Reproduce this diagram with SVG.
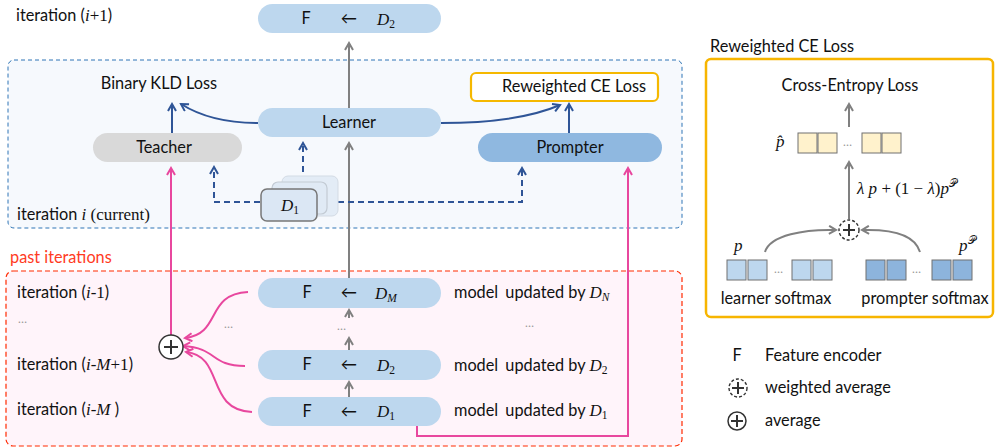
<svg xmlns="http://www.w3.org/2000/svg" width="995" height="448" viewBox="0 0 995 448">
<defs>
<style>
.t{font-family:Lato,"Open Sans","Noto Sans",sans-serif;font-size:16.3px;fill:#111;}
.m{font-family:"Liberation Serif","DejaVu Serif",serif;font-style:italic;font-size:17px;fill:#111;}
.r{font-family:"Liberation Serif","DejaVu Serif",serif;font-style:normal;font-size:17px;fill:#111;}
.sub{font-family:"Liberation Serif","DejaVu Serif",serif;font-style:normal;font-size:11.5px;}
.subi{font-family:"Liberation Serif","DejaVu Serif",serif;font-style:italic;font-size:11.5px;}
.sc{font-family:"DejaVu Sans","DejaVu Serif",serif;font-style:normal;font-size:11px;}
.c{text-anchor:middle;}
.pill{fill:#bdd7ee;}
.blue{fill:none;stroke:#2f5597;stroke-width:2;}
.dash{fill:none;stroke:#2f5597;stroke-width:2;stroke-dasharray:6,4;}
.gray{fill:none;stroke:#808080;stroke-width:2;}
.pink{fill:none;stroke:#e8479e;stroke-width:2;}
.sq{stroke:#707070;stroke-width:1;}
.dots{font-family:Lato,sans-serif;font-size:12px;fill:#999;}
</style>
<marker id="ab" viewBox="0 0 10 10" refX="8" refY="5" markerWidth="5" markerHeight="5" orient="auto"><path d="M1,1 L8,5 L1,9" fill="none" stroke="#2f5597" stroke-width="2"/></marker>
<marker id="ag" viewBox="0 0 10 10" refX="8" refY="5" markerWidth="5" markerHeight="5" orient="auto"><path d="M1,1 L8,5 L1,9" fill="none" stroke="#808080" stroke-width="2"/></marker>
<marker id="ap" viewBox="0 0 10 10" refX="8" refY="5" markerWidth="5" markerHeight="5" orient="auto"><path d="M1,1 L8,5 L1,9" fill="none" stroke="#e8479e" stroke-width="2"/></marker>
</defs>
<rect width="995" height="448" fill="#fff"/>

<!-- containers -->
<g id="current-box">
<rect x="8" y="60" width="674" height="168" rx="6" fill="#f6f9fd" stroke="#2e75b6" stroke-width="1" stroke-dasharray="4,3"/>
</g>
<g id="past-box">
<rect x="6" y="271" width="676" height="175" rx="7" fill="#fff4fa" stroke="#ff2a00" stroke-width="1.2" stroke-dasharray="5,3"/>
<text x="10" y="263" class="t" style="fill:#ff3b1f">past iterations</text>
</g>

<!-- labels left -->
<g id="labels">
<text x="16" y="21" class="t">iteration (<tspan class="m">i</tspan><tspan class="r">+1</tspan>)</text>
<text x="17" y="220" class="t">iteration <tspan class="m">i</tspan> <tspan class="r">(current)</tspan></text>
<text x="17" y="298" class="t">iteration (<tspan class="m">i</tspan><tspan class="r">-1</tspan>)</text>
<text x="18" y="323" class="dots">…</text>
<text x="17" y="370" class="t">iteration (<tspan class="m">i</tspan><tspan class="r">-</tspan><tspan class="m">M</tspan><tspan class="r">+1</tspan>)</text>
<text x="17" y="415" class="t">iteration (<tspan class="m">i</tspan><tspan class="r">-</tspan><tspan class="m">M</tspan> )</text>
<text x="224" y="328" class="dots">…</text>
<text x="337" y="330" class="dots">…</text>
<text x="454" y="298" class="t">model <tspan dx="3">updated by </tspan><tspan class="m">D</tspan><tspan class="subi" dy="3">N</tspan></text>
<text x="525" y="327" class="dots">…</text>
<text x="454" y="371" class="t">model <tspan dx="3">updated by </tspan><tspan class="m">D</tspan><tspan class="sub" dy="3">2</tspan></text>
<text x="454" y="416" class="t">model <tspan dx="3">updated by </tspan><tspan class="m">D</tspan><tspan class="sub" dy="3">1</tspan></text>
</g>

<!-- connectors -->
<g id="connectors">
<line x1="349" y1="108" x2="349" y2="43" class="gray" marker-end="url(#ag)"/>
<line x1="349" y1="278" x2="349" y2="143" class="gray" marker-end="url(#ag)"/>
<line x1="349" y1="318" x2="349" y2="310" class="gray" marker-end="url(#ag)"/>
<line x1="349" y1="350" x2="349" y2="338" class="gray" marker-end="url(#ag)"/>
<line x1="349" y1="397" x2="349" y2="382" class="gray" marker-end="url(#ag)"/>
<line x1="172" y1="133" x2="172" y2="104" class="blue" marker-end="url(#ab)"/>
<path d="M258,123 C225,123 200,116 181,104" class="blue" marker-end="url(#ab)"/>
<path d="M441,123 C490,123 530,118 560,105" class="blue" marker-end="url(#ab)"/>
<line x1="569" y1="133" x2="569" y2="104" class="blue" marker-end="url(#ab)"/>
<path d="M260,202 L214,202 L214,167" class="dash" marker-end="url(#ab)"/>
<line x1="303" y1="172" x2="303" y2="143" class="dash" marker-end="url(#ab)"/>
<path d="M338,202 L522,202 L522,168" class="dash" marker-end="url(#ab)"/>
<line x1="171" y1="335" x2="171" y2="168" class="pink" marker-end="url(#ap)"/>
<path d="M417,426 L417,436 L628,436 L628,168" class="pink" marker-end="url(#ap)"/>
<path d="M248,292 C205,294 222,334 185,338" class="pink" marker-end="url(#ap)"/>
<path d="M245,366 C210,366 218,348 183,346" class="pink" marker-end="url(#ap)"/>
<path d="M252,412 C205,410 225,356 186,352" class="pink" marker-end="url(#ap)"/>
</g>

<!-- nodes -->
<g id="node-top">
<rect x="258" y="4" width="183" height="29" rx="14.5" class="pill"/>
<text x="306" y="24" class="t c">F</text>
<text x="349" y="24" class="t c">←</text>
<text x="377" y="25" class="m">D<tspan class="sub" dy="3">2</tspan></text>
</g>
<g id="node-learner">
<rect x="258" y="108" width="183" height="29" rx="14.5" class="pill"/>
<text x="349" y="128" class="t c">Learner</text>
</g>
<g id="node-teacher">
<rect x="93" y="133" width="149" height="29" rx="14.5" fill="#d9d9d9"/>
<text x="164" y="153" class="t c">Teacher</text>
</g>
<g id="node-prompter">
<rect x="478" y="133" width="184" height="29" rx="14.5" fill="#8fb8e0"/>
<text x="570" y="153" class="t c">Prompter</text>
</g>
<g id="node-kld">
<text x="159" y="89" class="t c">Binary KLD Loss</text>
</g>
<g id="node-rce">
<rect x="471" y="73" width="187" height="28" rx="5" fill="#fff" stroke="#f5b800" stroke-width="2.2"/>
<text x="574" y="92" class="t c">Reweighted CE Loss</text>
</g>
<g id="node-d1stack">
<rect x="282" y="176" width="56" height="40" rx="6" fill="#e3ecf6" stroke="#d3dbe4" stroke-width="1"/>
<rect x="272" y="182" width="55" height="32" rx="6" fill="#e0eaf5" stroke="#c3cbd4" stroke-width="1.2"/>
<rect x="261" y="189" width="56" height="32" rx="6" fill="#dbe7f4" stroke="#777" stroke-width="1.5"/>
<text x="281" y="211" class="m">D<tspan class="sub" dy="3">1</tspan></text>
</g>
<g id="node-past-m">
<rect x="258" y="278" width="183" height="30" rx="15" class="pill"/>
<text x="307" y="298" class="t c">F</text>
<text x="349" y="298" class="t c">←</text>
<text x="375" y="299" class="m">D<tspan class="subi" dy="3">M</tspan></text>
</g>
<g id="node-past-2">
<rect x="258" y="350" width="183" height="30" rx="15" class="pill"/>
<text x="307" y="370" class="t c">F</text>
<text x="349" y="370" class="t c">←</text>
<text x="377" y="371" class="m">D<tspan class="sub" dy="3">2</tspan></text>
</g>
<g id="node-past-1">
<rect x="258" y="397" width="183" height="29" rx="14.5" class="pill"/>
<text x="307" y="417" class="t c">F</text>
<text x="349" y="417" class="t c">←</text>
<text x="377" y="417" class="m">D<tspan class="sub" dy="3">1</tspan></text>
</g>
<g id="node-avg">
<circle cx="171" cy="347" r="12" fill="#fff" stroke="#333" stroke-width="1.5"/>
<path d="M164,347 H178 M171,340 V354" stroke="#333" stroke-width="2"/>
</g>

<!-- right panel -->
<g id="panel-rce">
<text x="710" y="52" class="t">Reweighted CE Loss</text>
<rect x="706" y="59" width="287" height="258" rx="5" fill="#fff" stroke="#f7b500" stroke-width="2.5"/>
<text x="850" y="91" class="t c">Cross-Entropy Loss</text>
<line x1="849" y1="127" x2="849" y2="104" class="gray" stroke-width="1.6" marker-end="url(#ag)"/>
<text x="776" y="147" class="m">p̂</text>
<g fill="#fff2cc" class="sq">
<rect x="798" y="133" width="19" height="20"/><rect x="818" y="133" width="19" height="20"/>
<rect x="862" y="133" width="19" height="20"/><rect x="882" y="133" width="19" height="20"/>
</g>
<text x="843" y="146" class="dots">…</text>
<line x1="849" y1="219" x2="849" y2="162" class="gray" stroke-width="1.6" marker-end="url(#ag)"/>
<text x="857" y="194" class="m">λ p <tspan class="r">+ (1 − </tspan>λ<tspan class="r">)</tspan>p<tspan class="sc" dy="-7">𝒫</tspan></text>
<circle cx="849" cy="230" r="10" fill="#fff" stroke="#333" stroke-width="1.4" stroke-dasharray="3,2"/>
<path d="M843,230 H855 M849,224 V236" stroke="#333" stroke-width="2"/>
<path d="M765,252 C770,235 805,229 836,230" class="gray" stroke-width="1.6" marker-end="url(#ag)"/>
<path d="M920,252 C915,235 893,229 862,230" class="gray" stroke-width="1.6" marker-end="url(#ag)"/>
<text x="734" y="251" class="m">p</text>
<text x="959" y="251" class="m">p<tspan class="sc" dy="-7">𝒫</tspan></text>
<g fill="#bdd7ee" class="sq">
<rect x="727" y="260" width="19" height="20"/><rect x="748" y="260" width="19" height="20"/>
<rect x="792" y="260" width="19" height="20"/><rect x="813" y="260" width="19" height="20"/>
</g>
<text x="774" y="273" class="dots">…</text>
<g fill="#8db4dc" class="sq">
<rect x="866" y="260" width="19" height="20"/><rect x="887" y="260" width="19" height="20"/>
<rect x="932" y="260" width="19" height="20"/><rect x="953" y="260" width="19" height="20"/>
</g>
<text x="912" y="273" class="dots">…</text>
<text x="776" y="304" class="t c">learner softmax</text>
<text x="925" y="304" class="t c">prompter softmax</text>
</g>

<g id="legend">
<text x="737" y="361" class="t c">F</text>
<text x="765" y="361" class="t">Feature encoder</text>
<circle cx="738" cy="388" r="9" fill="#fff" stroke="#333" stroke-width="1.4" stroke-dasharray="3,2"/>
<path d="M732,388 H744 M738,382 V394" stroke="#333" stroke-width="2"/>
<text x="765" y="393" class="t">weighted average</text>
<circle cx="737" cy="421" r="9" fill="#fff" stroke="#333" stroke-width="1.5"/>
<path d="M731,421 H743 M737,415 V427" stroke="#333" stroke-width="2"/>
<text x="765" y="426" class="t">average</text>
</g>
</svg>
